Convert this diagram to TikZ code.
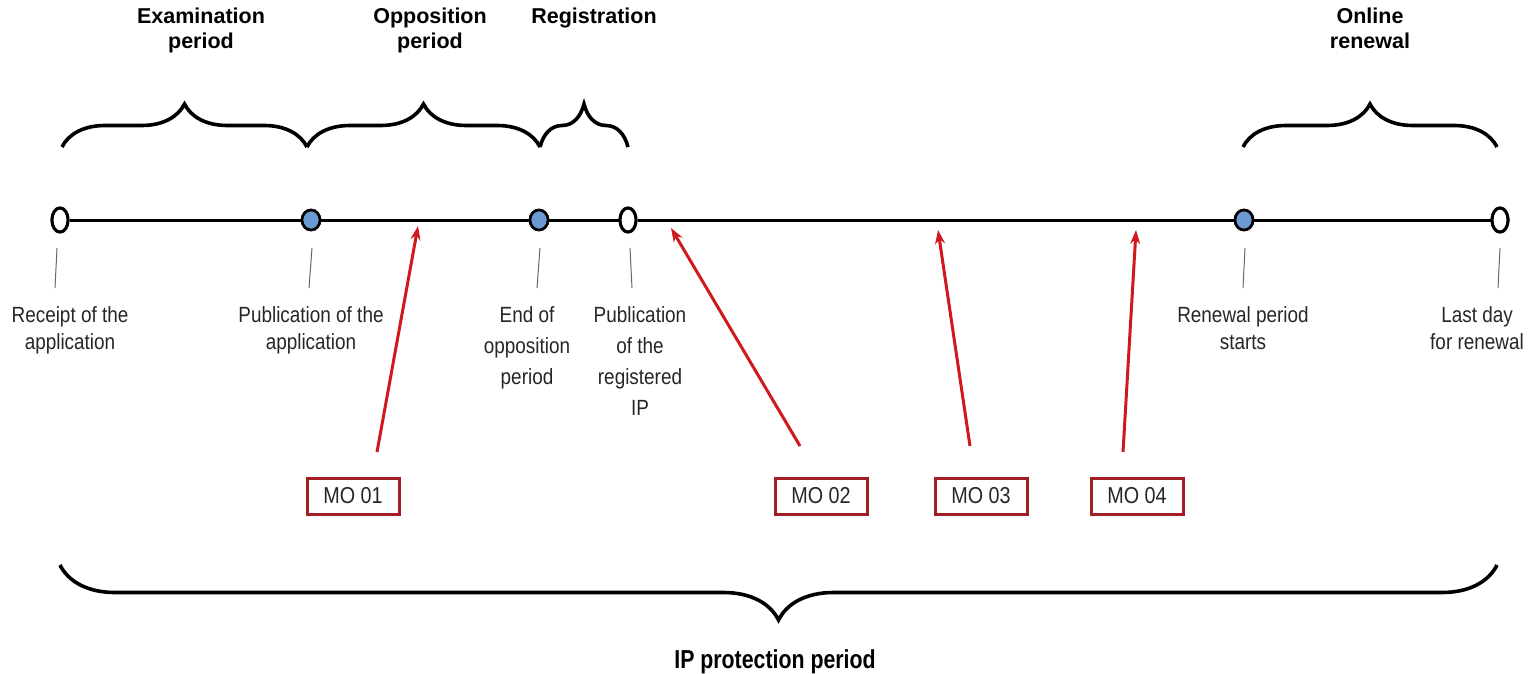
\documentclass[tikz,border=0pt]{standalone}
\usepackage{fontspec}
\setmainfont{Liberation Sans}
\newfontfamily\narrowfont{Liberation Sans}[FakeStretch=0.86]
\newfontfamily\condfont{Liberation Sans}[FakeStretch=0.82]
\usetikzlibrary{decorations.pathreplacing,arrows.meta,shapes.geometric}
\definecolor{ptblue}{HTML}{6B9BD2}
\definecolor{arrred}{HTML}{D0191E}
\definecolor{boxred}{HTML}{A31D24}
\tikzset{
  openpt/.style={ellipse, draw=black, line width=1.5pt, fill=white, minimum width=8pt, minimum height=12pt, inner sep=0pt},
  bluept/.style={ellipse, draw=black, line width=1.3pt, fill=ptblue, minimum width=9pt, minimum height=10pt, inner sep=0pt},
  tline/.style={line width=1.5pt, black},
  tick/.style={line width=0.5pt, black!60},
  lbl/.style={font=\narrowfont\fontsize{11}{13.5}\selectfont, align=center, text=black!85, anchor=north, inner sep=0pt},
  lbltall/.style={lbl, font=\narrowfont\fontsize{11}{15.5}\selectfont},
  head/.style={font=\bfseries\fontsize{10.75}{12.5}\selectfont, align=center, anchor=north, inner sep=0pt},
  bigbrace/.style={decorate, line width=1.8pt, decoration={brace, amplitude=21.5pt}},
  mobox/.style={draw=boxred, line width=1.5pt, fill=white, minimum width=46pt, minimum height=18pt, inner sep=0pt, font=\narrowfont\fontsize{11.5}{12}\selectfont, text=black!85},
  moarrow/.style={draw=arrred, line width=1.5pt, -{Stealth[length=7pt,width=5pt]}}
}
\begin{document}
\begin{tikzpicture}[x=0.5pt,y=-0.5pt]
\useasboundingbox (0,0) rectangle (1530,674);
% timeline points
\node[openpt] (p1) at (60,220) {};
\node[bluept] (p2) at (311,220) {};
\node[bluept] (p3) at (539,220) {};
\node[openpt] (p4) at (628,220) {};
\node[bluept] (p5) at (1244,220) {};
\node[openpt] (p6) at (1500,220) {};
\draw[tline] (p1) -- (p2) -- (p3) -- (p4) -- (p5) -- (p6);
\node[openpt] at (p1) {};
\node[bluept] at (p2) {};
\node[bluept] at (p3) {};
\node[openpt] at (p4) {};
\node[bluept] at (p5) {};
\node[openpt] at (p6) {};
% ticks
\draw[tick] (57,248) coordinate (t1a) -- (55,288) coordinate (t1b);
\draw[tick] (312,248) coordinate (t2a) -- (309,288) coordinate (t2b);
\draw[tick] (540,248) coordinate (t3a) -- (537,288) coordinate (t3b);
\draw[tick] (630,248) coordinate (t4a) -- (632,288) coordinate (t4b);
\draw[tick] (1245,248) coordinate (t5a) -- (1243,288) coordinate (t5b);
\draw[tick] (1500,248) coordinate (t6a) -- (1498,288) coordinate (t6b);
% labels
\node[lbl] (l1) at (70,306) {Receipt of the\\application};
\node[lbl] (l2) at (311,306) {Publication of the\\application};
\node[lbltall] (l3) at (527,306) {End of\\opposition\\period};
\node[lbltall] (l4) at (640,306) {Publication\\of the\\registered\\IP};
\node[lbl] (l5) at (1243,306) {Renewal period\\starts};
\node[lbl] (l6) at (1477,306) {Last day\\for renewal};
% top braces
\draw[bigbrace] (62,147) coordinate (b1a) -- (307,147) coordinate (b1b);
\draw[bigbrace] (307,147) coordinate (b2a) -- (540,147) coordinate (b2b);
\draw[bigbrace] (540,147) coordinate (b3a) -- (628,147) coordinate (b3b);
\draw[bigbrace] (1243,147) coordinate (b4a) -- (1497,147) coordinate (b4b);
\node[head] (h1) at (201,8) {Examination\\period};
\node[head] (h2) at (430,8) {Opposition\\period};
\node[head] (h3) at (594,8) {Registration};
\node[head] (h4) at (1370,8) {Online\\renewal};
% MO boxes and arrows
\node[mobox] (m1) at (353,496) {MO 01};
\node[mobox] (m2) at (821,496) {MO 02};
\node[mobox] (m3) at (981,496) {MO 03};
\node[mobox] (m4) at (1137,496) {MO 04};
\coordinate (a1s) at (377,452); \coordinate (a1e) at (418,226);
\coordinate (a2s) at (800,446); \coordinate (a2e) at (671,228);
\coordinate (a3s) at (970,446); \coordinate (a3e) at (938,230);
\coordinate (a4s) at (1123,452); \coordinate (a4e) at (1136,230);
\draw[moarrow] (a1s) -- (a1e);
\draw[moarrow] (a2s) -- (a2e);
\draw[moarrow] (a3s) -- (a3e);
\draw[moarrow] (a4s) -- (a4e);
% bottom brace
\draw[decorate, line width=1.8pt, decoration={brace, amplitude=27.5pt}] (1497,565) coordinate (bba) -- (60,565) coordinate (bbb);
\node[head, font=\condfont\bfseries\fontsize{13}{15}\selectfont] (ip) at (775,649) {IP protection period};
\end{tikzpicture}
\end{document}
